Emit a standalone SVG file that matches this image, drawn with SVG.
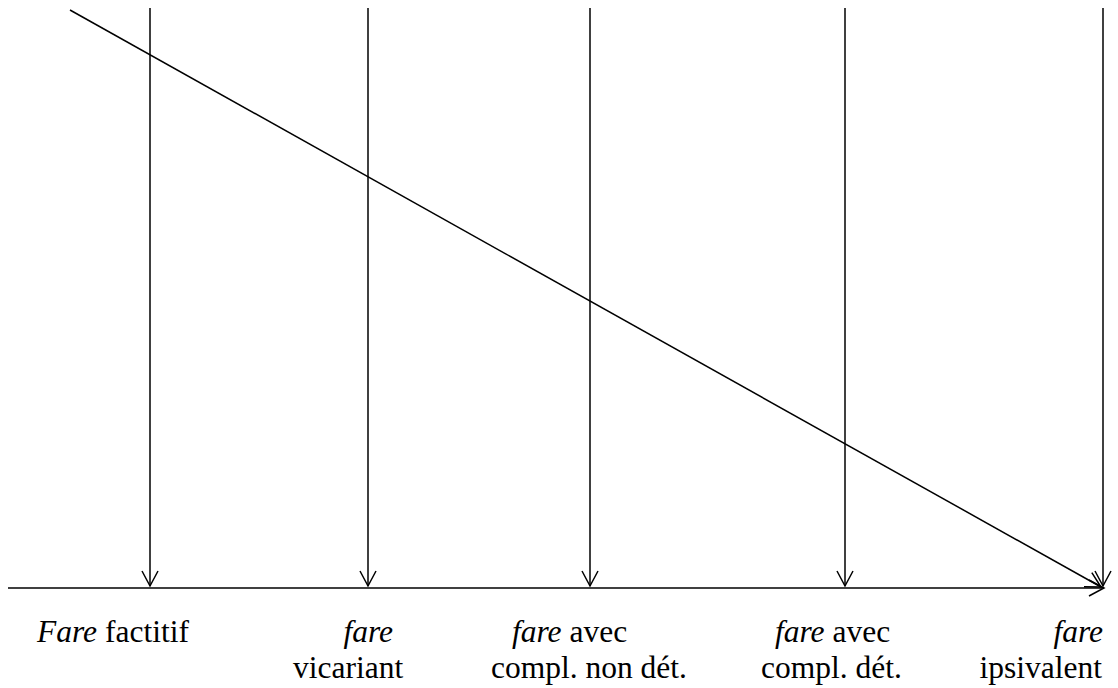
<svg xmlns="http://www.w3.org/2000/svg" width="1118" height="688" viewBox="0 0 1118 688">
<style>
.ln{stroke:#000;stroke-width:1.5;fill:none}
.t{font-family:"Liberation Serif","Times New Roman",serif;font-size:31.5px;fill:#000}
.i{font-style:italic}
</style>
<defs>
<marker id="ah" markerUnits="userSpaceOnUse" markerWidth="20" markerHeight="20" viewBox="-17 -10 19 20" refX="0" refY="0" orient="auto">
<path d="M-15,-8 L0,0 L-15,8" fill="none" stroke="#000" stroke-width="1.5"/>
</marker>
</defs>
<rect width="1118" height="688" fill="#fff"/>
<g id="connectors">
<line class="ln" x1="8" y1="588" x2="1104" y2="588" marker-end="url(#ah)"/>
<line class="ln" x1="70" y1="10" x2="1101" y2="587" marker-end="url(#ah)"/>
<line class="ln" x1="150" y1="8" x2="150" y2="586" marker-end="url(#ah)"/>
<line class="ln" x1="368" y1="8" x2="368" y2="586" marker-end="url(#ah)"/>
<line class="ln" x1="590" y1="8" x2="590" y2="586" marker-end="url(#ah)"/>
<line class="ln" x1="845" y1="8" x2="845" y2="586" marker-end="url(#ah)"/>
<line class="ln" x1="1103" y1="8" x2="1103" y2="586" marker-end="url(#ah)"/>
</g>
<g id="label-factitif">
<text class="t" x="37" y="642"><tspan class="i">Fare</tspan> factitif</text>
</g>
<g id="label-vicariant">
<text class="t i" x="393" y="642" text-anchor="end">fare</text>
<text class="t" x="293" y="678">vicariant</text>
</g>
<g id="label-non-det">
<text class="t" x="512" y="642"><tspan class="i">fare</tspan> avec</text>
<text class="t" x="491" y="678">compl. non dét.</text>
</g>
<g id="label-det">
<text class="t" x="775" y="642"><tspan class="i">fare</tspan> avec</text>
<text class="t" x="761" y="678">compl. dét.</text>
</g>
<g id="label-ipsivalent">
<text class="t i" x="1103" y="642" text-anchor="end">fare</text>
<text class="t" x="1102" y="678" text-anchor="end">ipsivalent</text>
</g>
</svg>
